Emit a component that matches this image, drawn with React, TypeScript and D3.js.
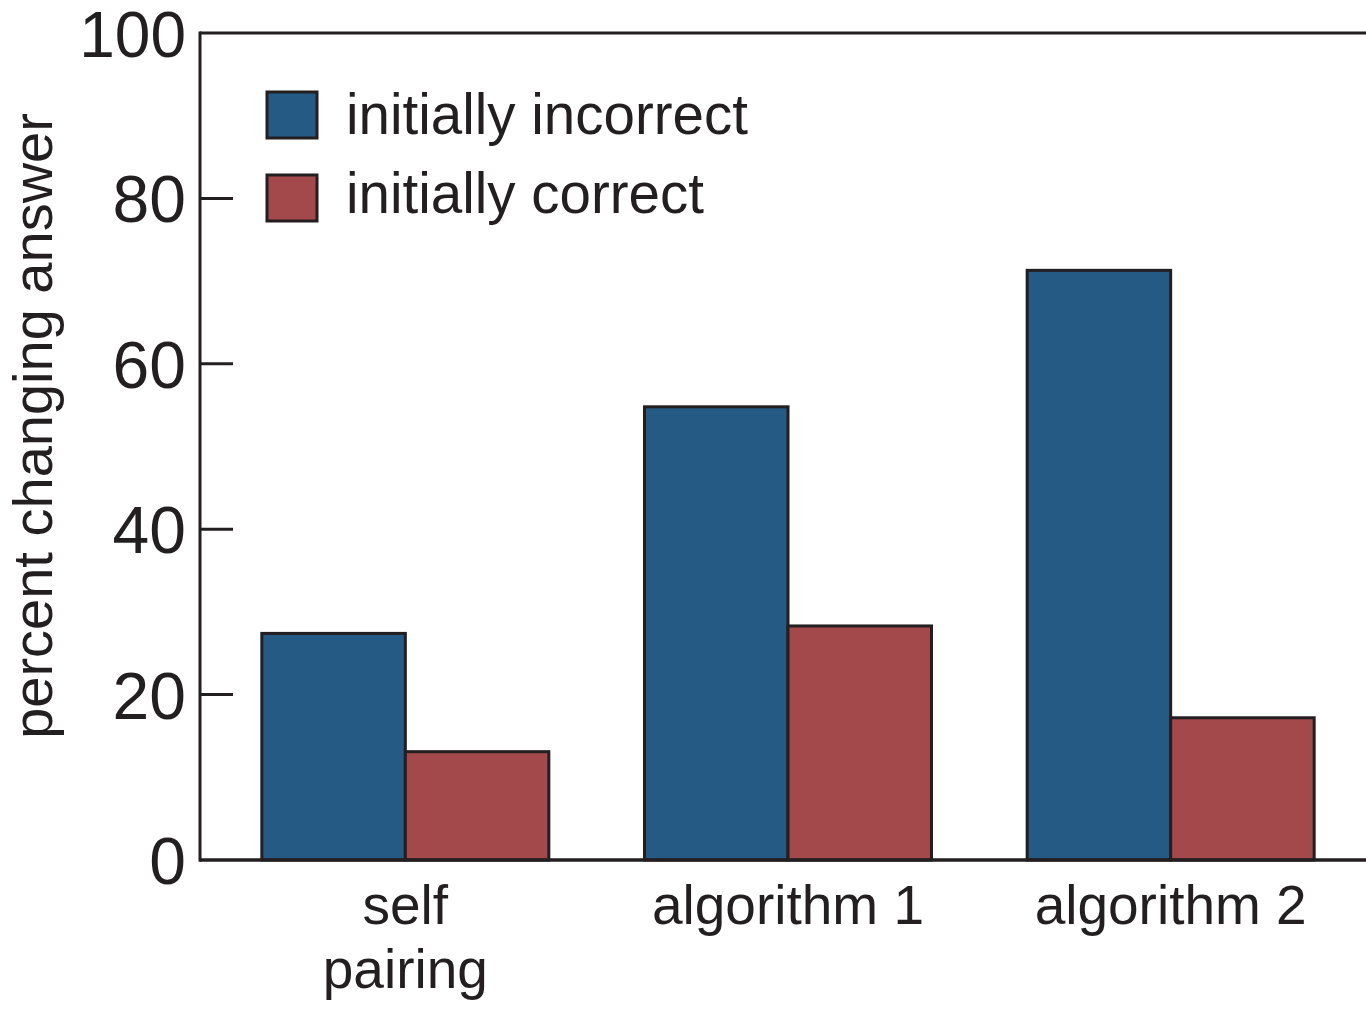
import React from "react";
import * as d3 from "d3";

const categories: string[][] = [["self", "pairing"], ["algorithm 1"], ["algorithm 2"]];
const categoryKeys = ["self pairing", "algorithm 1", "algorithm 2"];
const seriesNames = ["initially incorrect", "initially correct"];
const initiallyIncorrect = [27.4, 54.8, 71.3];
const initiallyCorrect = [13.1, 28.3, 17.2];
const yTicks = [0, 20, 40, 60, 80, 100];
const colors = ["#245a83", "#a3484b"];

const W = 1366;
const H = 1009;
const left = 200;
const top = 33;
const bottom = 860;
const ink = "#231f20";
const font = "'Liberation Sans', Arial, Helvetica, sans-serif";

export default function App() {
  const y = d3.scaleLinear().domain([0, 100]).range([bottom, top]);
  const x0 = d3.scaleBand<string>().domain(categoryKeys).range([214, 1362]).paddingInner(0.25).paddingOuter(0.125);
  const x1 = d3.scaleBand<string>().domain(seriesNames).range([0, x0.bandwidth()]);
  const series = [initiallyIncorrect, initiallyCorrect];

  return (
    <svg width={W} height={H} style={{ position: "absolute", left: 0, top: 0, background: "#fff" }} fontFamily={font}>
      {/* bars */}
      {categoryKeys.map((c, i) => (
        <g key={c} transform={`translate(${x0(c)},0)`}>
          {seriesNames.map((s, j) => (
            <rect
              key={s}
              x={x1(s)}
              y={y(series[j][i])}
              width={x1.bandwidth()}
              height={y(0) - y(series[j][i])}
              fill={colors[j]}
              stroke={ink}
              strokeWidth={3}
            />
          ))}
        </g>
      ))}

      {/* axes frame */}
      <line x1={left} x2={W} y1={top} y2={top} stroke={ink} strokeWidth={3} />
      <line x1={left} x2={W} y1={bottom} y2={bottom} stroke={ink} strokeWidth={3.5} />
      <line x1={left} x2={left} y1={top - 1.5} y2={bottom + 1.75} stroke={ink} strokeWidth={3} />

      {/* y ticks */}
      {yTicks.map((t) => (
        <g key={t}>
          {t > 0 && t < 100 && (
            <line x1={left} x2={left + 33} y1={y(t)} y2={y(t)} stroke={ink} strokeWidth={3} />
          )}
          <text x={186} y={y(t) + 24} textAnchor="end" fontSize={t === 100 ? 64 : 66} fill={ink}>
            {t}
          </text>
        </g>
      ))}

      {/* y label */}
      <text
        transform={`translate(52, 426) rotate(-90)`}
        textAnchor="middle"
        fontSize={56}
        fill={ink}
      >
        percent changing answer
      </text>

      {/* x labels */}
      {categoryKeys.map((c, i) => (
        <text key={c} textAnchor="middle" fontSize={55} fill={ink}>
          {categories[i].map((line, k) => (
            <tspan key={k} x={(x0(c) as number) + x0.bandwidth() / 2} y={924 + k * 64}>
              {line}
            </tspan>
          ))}
        </text>
      ))}

      {/* legend */}
      {seriesNames.map((s, j) => (
        <g key={s}>
          <rect x={267} y={92 + j * 83} width={50} height={46} fill={colors[j]} stroke={ink} strokeWidth={3} />
          <text x={346} y={134 + j * 79} fontSize={56.5} fill={ink}>
            {s}
          </text>
        </g>
      ))}
    </svg>
  );
}
